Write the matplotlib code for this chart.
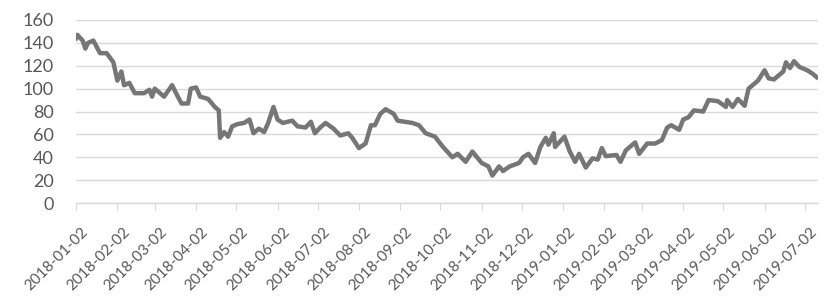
import matplotlib
matplotlib.use('Agg')
import matplotlib.pyplot as plt
import matplotlib.dates as mdates
import matplotlib.transforms as mtransforms
import pandas as pd

# values
dates = [
    '2018-01-02', '2018-01-03', '2018-01-07', '2018-01-09', '2018-01-11', '2018-01-15',
    '2018-01-20', '2018-01-25', '2018-01-30', '2018-02-02', '2018-02-05', '2018-02-07',
    '2018-02-11', '2018-02-15', '2018-02-22', '2018-02-26', '2018-02-28', '2018-03-02',
    '2018-03-09', '2018-03-15', '2018-03-18', '2018-03-22', '2018-03-27', '2018-03-29',
    '2018-04-02', '2018-04-05', '2018-04-11', '2018-04-16', '2018-04-19', '2018-04-20',
    '2018-04-23', '2018-04-26', '2018-04-29', '2018-05-03', '2018-05-08', '2018-05-12',
    '2018-05-15', '2018-05-19', '2018-05-23', '2018-05-26', '2018-05-30', '2018-06-02',
    '2018-06-06', '2018-06-13', '2018-06-17', '2018-06-23', '2018-06-27', '2018-06-30',
    '2018-07-04', '2018-07-08', '2018-07-14', '2018-07-19', '2018-07-25', '2018-07-28',
    '2018-08-02', '2018-08-07', '2018-08-11', '2018-08-14', '2018-08-18', '2018-08-22',
    '2018-08-28', '2018-08-31', '2018-09-11', '2018-09-16', '2018-09-21', '2018-09-28',
    '2018-10-04', '2018-10-11', '2018-10-15', '2018-10-21', '2018-10-26', '2018-11-02',
    '2018-11-07', '2018-11-10', '2018-11-15', '2018-11-18', '2018-11-23', '2018-11-30',
    '2018-12-03', '2018-12-07', '2018-12-12', '2018-12-16', '2018-12-20', '2018-12-22',
    '2018-12-26', '2018-12-27', '2019-01-03', '2019-01-07', '2019-01-11', '2019-01-14',
    '2019-01-19', '2019-01-24', '2019-01-28', '2019-01-31', '2019-02-03', '2019-02-11',
    '2019-02-14', '2019-02-18', '2019-02-25', '2019-02-28', '2019-03-06', '2019-03-12',
    '2019-03-17', '2019-03-21', '2019-03-24', '2019-03-30', '2019-04-02', '2019-04-06',
    '2019-04-10', '2019-04-17', '2019-04-21', '2019-04-28', '2019-05-04', '2019-05-05',
    '2019-05-09', '2019-05-13', '2019-05-18', '2019-05-21', '2019-05-26', '2019-05-28',
    '2019-06-02', '2019-06-05', '2019-06-09', '2019-06-16', '2019-06-18', '2019-06-21',
    '2019-06-24', '2019-06-28', '2019-07-04', '2019-07-08', '2019-07-11',
]
values = [
    144, 147, 142, 135, 140, 142,
    131, 131, 123, 107, 115, 103,
    105, 96, 96, 99, 93, 100,
    93, 103, 96, 87, 87, 100,
    101, 93, 91, 84, 81, 57,
    62, 58, 67, 69, 70, 73,
    61, 65, 62, 70, 84, 73,
    70, 72, 67, 66, 71, 61,
    66, 70, 65, 59, 61, 57,
    48, 52, 68, 68, 78, 82,
    78, 72, 70, 68, 61, 58,
    49, 40, 43, 36, 45, 35,
    32, 24, 32, 28, 32, 35,
    40, 43, 35, 49, 57, 51,
    61, 49, 58, 45, 36, 43,
    31, 39, 38, 48, 41, 42,
    36, 46, 53, 43, 52, 52,
    55, 66, 68, 64, 73, 75,
    81, 80, 90, 89, 84, 90,
    84, 91, 85, 100, 105, 107,
    116, 109, 108, 115, 123, 118,
    124, 119, 116, 113, 110,
]
# month ticks fall on the 2nd of every month
tick_dates = pd.date_range('2018-01-01', '2019-07-01', freq='MS') + pd.Timedelta(days=1)
y_ticks = [0, 20, 40, 60, 80, 100, 120, 140, 160]

plt.rcParams['font.family'] = ['Lato', 'DejaVu Sans']

fig = plt.figure(figsize=(8.25, 3.03), dpi=100)
ax = fig.add_axes([76 / 825, 1 - 203 / 303, 742 / 825, 183 / 303])

x = pd.to_datetime(dates)
ax.plot(x, values, color='#767676', linewidth=3.2, solid_joinstyle='round', zorder=3)

ax.set_ylim(0, 160)
ax.set_yticks(y_ticks)
ax.set_xlim(pd.Timestamp('2018-01-02'), pd.Timestamp('2019-07-12'))
ax.set_xticks(tick_dates)
ax.xaxis.set_major_formatter(mdates.DateFormatter('%Y-%m-%d'))

ax.grid(axis='y', color='#d9d9d9', linewidth=1)
ax.set_axisbelow(True)
for side in ['left', 'right', 'top']:
    ax.spines[side].set_visible(False)
ax.spines['bottom'].set_color('#d9d9d9')
ax.spines['bottom'].set_linewidth(1)

ax.tick_params(axis='y', length=0, pad=16, labelsize=13, labelcolor='#595959')
ax.tick_params(axis='x', length=5, color='#d9d9d9', pad=11, labelsize=11, labelcolor='#595959')
shift = mtransforms.ScaledTranslation(5 / 100, 0, fig.dpi_scale_trans)
for lbl in ax.get_xticklabels():
    lbl.set_rotation(45)
    lbl.set_ha('right')
    lbl.set_rotation_mode('anchor')
    lbl.set_transform(lbl.get_transform() + shift)

fig.savefig('out.png', dpi=100)
